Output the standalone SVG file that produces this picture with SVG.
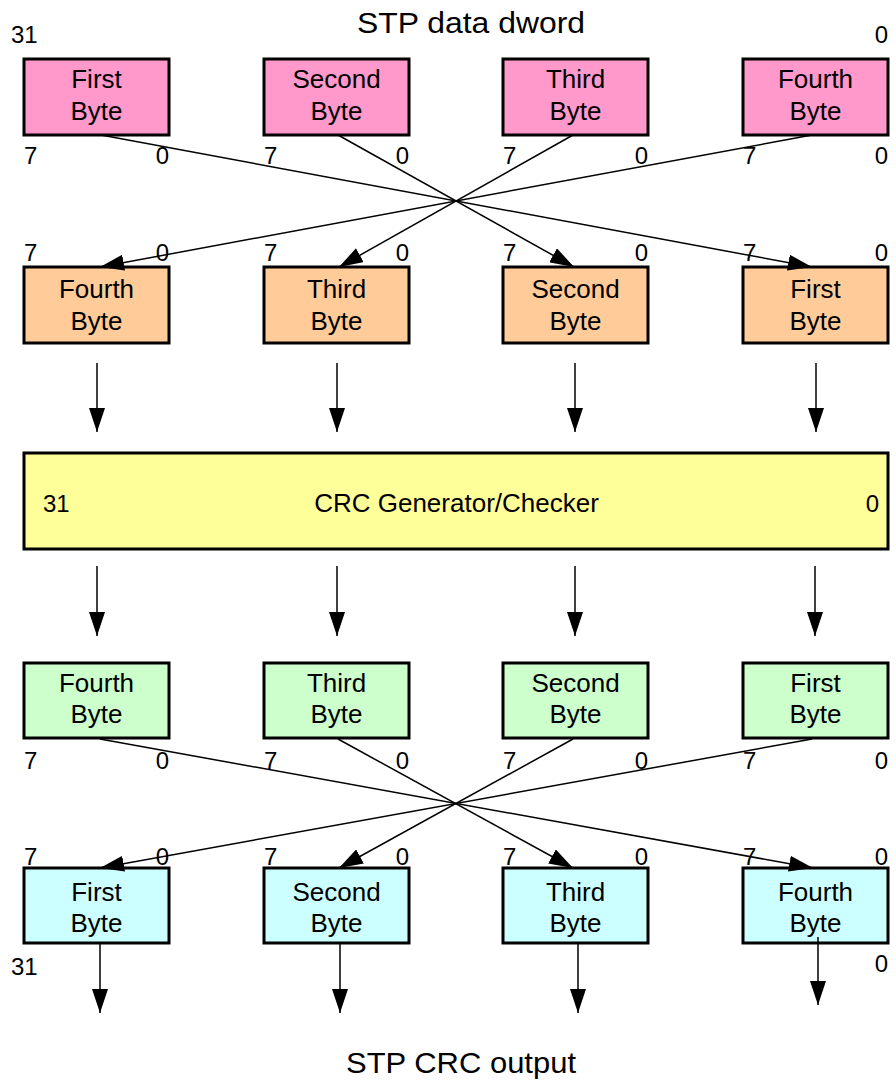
<svg xmlns="http://www.w3.org/2000/svg" width="896" height="1086" viewBox="0 0 896 1086">
  <style>
    text { font-family: "Liberation Sans", Arial, sans-serif; fill: #000; }
    .title { font-size: 29px; text-anchor: middle; }
    .lbl { font-size: 26px; text-anchor: middle; }
    .num { font-size: 24px; }
    .end { text-anchor: end; }
    .box { stroke: #000; stroke-width: 3; }
    .pink { fill: #FF99CC; }
    .orange { fill: #FFCC99; }
    .yellow { fill: #FFFF99; }
    .green { fill: #CCFFCC; }
    .cyan { fill: #CCFFFF; }
    .wire { stroke: #000; stroke-width: 1.5; fill: none; }
  </style>
  <defs>
    <marker id="arrow" viewBox="0 0 24 16" refX="24" refY="8" markerWidth="24" markerHeight="16" markerUnits="userSpaceOnUse" orient="auto">
      <path d="M0,0 L24,8 L0,16 z" fill="#000"/>
    </marker>
  </defs>

  <!-- headings -->
  <text class="title" x="471" y="33" textLength="228" lengthAdjust="spacingAndGlyphs">STP data dword</text>
  <text class="title" x="461" y="1073" textLength="230" lengthAdjust="spacingAndGlyphs">STP CRC output</text>

  <!-- input dword bytes -->
  <g id="in-first">
    <rect class="box pink" x="24" y="59" width="145" height="76"/>
    <text class="lbl" x="96.5" y="88">First</text>
    <text class="lbl" x="96.5" y="120">Byte</text>
  </g>
  <g id="in-second">
    <rect class="box pink" x="264" y="59" width="145" height="76"/>
    <text class="lbl" x="336.5" y="88">Second</text>
    <text class="lbl" x="336.5" y="120">Byte</text>
  </g>
  <g id="in-third">
    <rect class="box pink" x="503" y="59" width="145" height="76"/>
    <text class="lbl" x="575.5" y="88">Third</text>
    <text class="lbl" x="575.5" y="120">Byte</text>
  </g>
  <g id="in-fourth">
    <rect class="box pink" x="743" y="59" width="145" height="76"/>
    <text class="lbl" x="815.5" y="88">Fourth</text>
    <text class="lbl" x="815.5" y="120">Byte</text>
  </g>
  <g id="in-bits">
    <text class="num" x="11" y="43">31</text>
    <text class="num end" x="888" y="43">0</text>
    <text class="num" x="24" y="164">7</text><text class="num end" x="169" y="164">0</text>
    <text class="num" x="264" y="164">7</text><text class="num end" x="409" y="164">0</text>
    <text class="num" x="503" y="164">7</text><text class="num end" x="648" y="164">0</text>
    <text class="num" x="743" y="164">7</text><text class="num end" x="888" y="164">0</text>
  </g>

  <!-- byte-swapped input to CRC -->
  <g id="swap-fourth">
    <rect class="box orange" x="24" y="267" width="145" height="76"/>
    <text class="lbl" x="96.5" y="298">Fourth</text>
    <text class="lbl" x="96.5" y="330">Byte</text>
  </g>
  <g id="swap-third">
    <rect class="box orange" x="264" y="267" width="145" height="76"/>
    <text class="lbl" x="336.5" y="298">Third</text>
    <text class="lbl" x="336.5" y="330">Byte</text>
  </g>
  <g id="swap-second">
    <rect class="box orange" x="503" y="267" width="145" height="76"/>
    <text class="lbl" x="575.5" y="298">Second</text>
    <text class="lbl" x="575.5" y="330">Byte</text>
  </g>
  <g id="swap-first">
    <rect class="box orange" x="743" y="267" width="145" height="76"/>
    <text class="lbl" x="815.5" y="298">First</text>
    <text class="lbl" x="815.5" y="330">Byte</text>
  </g>
  <g id="swap-bits">
    <text class="num" x="24" y="261">7</text><text class="num end" x="169" y="261">0</text>
    <text class="num" x="264" y="261">7</text><text class="num end" x="409" y="261">0</text>
    <text class="num" x="503" y="261">7</text><text class="num end" x="648" y="261">0</text>
    <text class="num" x="743" y="261">7</text><text class="num end" x="888" y="261">0</text>
  </g>

  <!-- CRC engine -->
  <g id="crc">
    <rect class="box yellow" x="24" y="453" width="864" height="96"/>
    <text class="num" x="43" y="512">31</text>
    <text class="lbl" x="456.5" y="512">CRC Generator/Checker</text>
    <text class="num end" x="879" y="512">0</text>
  </g>

  <!-- CRC result bytes -->
  <g id="res-fourth">
    <rect class="box green" x="24" y="663" width="145" height="75"/>
    <text class="lbl" x="96.5" y="692">Fourth</text>
    <text class="lbl" x="96.5" y="723">Byte</text>
  </g>
  <g id="res-third">
    <rect class="box green" x="264" y="663" width="145" height="75"/>
    <text class="lbl" x="336.5" y="692">Third</text>
    <text class="lbl" x="336.5" y="723">Byte</text>
  </g>
  <g id="res-second">
    <rect class="box green" x="503" y="663" width="145" height="75"/>
    <text class="lbl" x="575.5" y="692">Second</text>
    <text class="lbl" x="575.5" y="723">Byte</text>
  </g>
  <g id="res-first">
    <rect class="box green" x="743" y="663" width="145" height="75"/>
    <text class="lbl" x="815.5" y="692">First</text>
    <text class="lbl" x="815.5" y="723">Byte</text>
  </g>
  <g id="res-bits">
    <text class="num" x="24" y="769">7</text><text class="num end" x="169" y="769">0</text>
    <text class="num" x="264" y="769">7</text><text class="num end" x="409" y="769">0</text>
    <text class="num" x="503" y="769">7</text><text class="num end" x="648" y="769">0</text>
    <text class="num" x="743" y="769">7</text><text class="num end" x="888" y="769">0</text>
  </g>

  <!-- output dword bytes -->
  <g id="out-first">
    <rect class="box cyan" x="24" y="868" width="145" height="75"/>
    <text class="lbl" x="96.5" y="901">First</text>
    <text class="lbl" x="96.5" y="932">Byte</text>
  </g>
  <g id="out-second">
    <rect class="box cyan" x="264" y="868" width="145" height="75"/>
    <text class="lbl" x="336.5" y="901">Second</text>
    <text class="lbl" x="336.5" y="932">Byte</text>
  </g>
  <g id="out-third">
    <rect class="box cyan" x="503" y="868" width="145" height="75"/>
    <text class="lbl" x="575.5" y="901">Third</text>
    <text class="lbl" x="575.5" y="932">Byte</text>
  </g>
  <g id="out-fourth">
    <rect class="box cyan" x="743" y="868" width="145" height="75"/>
    <text class="lbl" x="815.5" y="901">Fourth</text>
    <text class="lbl" x="815.5" y="932">Byte</text>
  </g>
  <g id="out-bits">
    <text class="num" x="24" y="865">7</text><text class="num end" x="169" y="865">0</text>
    <text class="num" x="264" y="865">7</text><text class="num end" x="409" y="865">0</text>
    <text class="num" x="503" y="865">7</text><text class="num end" x="648" y="865">0</text>
    <text class="num" x="743" y="865">7</text><text class="num end" x="888" y="865">0</text>
    <text class="num" x="11" y="975">31</text>
    <text class="num end" x="888" y="972">0</text>
  </g>

  <!-- connectors -->
  <g id="connectors" class="wire" marker-end="url(#arrow)">
    <!-- byte swap before CRC -->
    <line x1="101" y1="135" x2="812" y2="267"/>
    <line x1="338" y1="135" x2="574" y2="267"/>
    <line x1="573" y1="135" x2="339" y2="267"/>
    <line x1="812" y1="135" x2="100" y2="267"/>
    <!-- into CRC -->
    <line x1="97" y1="363" x2="97" y2="432"/>
    <line x1="337" y1="363" x2="337" y2="432"/>
    <line x1="575" y1="363" x2="575" y2="432"/>
    <line x1="816" y1="363" x2="816" y2="432"/>
    <!-- out of CRC -->
    <line x1="97" y1="566" x2="97" y2="636"/>
    <line x1="337" y1="566" x2="337" y2="636"/>
    <line x1="575" y1="566" x2="575" y2="636"/>
    <line x1="815" y1="566" x2="815" y2="636"/>
    <!-- byte swap after CRC -->
    <line x1="100" y1="739" x2="813" y2="868"/>
    <line x1="338" y1="739" x2="573" y2="868"/>
    <line x1="573" y1="739" x2="339" y2="868"/>
    <line x1="812" y1="739" x2="100" y2="868"/>
    <!-- output -->
    <line x1="100" y1="943" x2="100" y2="1013"/>
    <line x1="340" y1="943" x2="340" y2="1013"/>
    <line x1="578" y1="943" x2="578" y2="1013"/>
    <line x1="818" y1="937" x2="818" y2="1005"/>
  </g>
</svg>
